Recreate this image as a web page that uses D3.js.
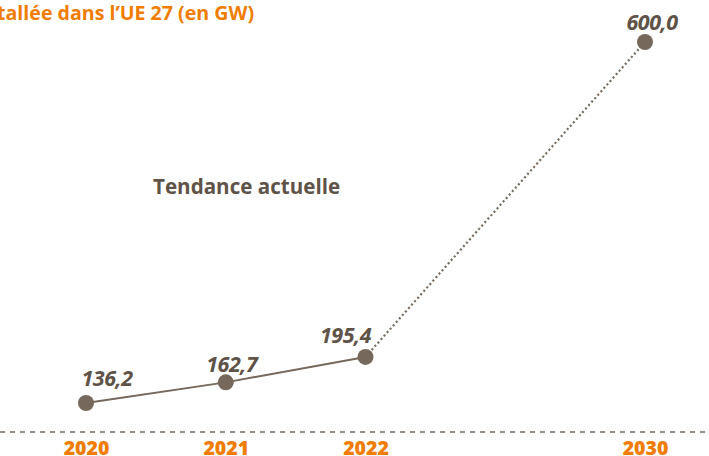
<!DOCTYPE html>
<html><head><meta charset="utf-8">
<script src="https://cdn.jsdelivr.net/npm/d3@7/dist/d3.min.js"></script>
<style>html,body{margin:0;padding:0;background:#fff;overflow:hidden}</style>
</head><body>
<svg id="chart" width="709" height="456"></svg>
<script>
const categories = ["2020", "2021", "2022", "", "2030"];
const years = ["2020", "2021", "2022", "2030"];
const values = [136.2, 162.7, 195.4, 600.0];
const valueLabels = ["136,2", "162,7", "195,4", "600,0"];
const title = "tallée dans l’UE 27 (en GW)";
const trendLabel = "Tendance actuelle";

const brown = "#76685a", darkBrown = "#5f5247", orange = "#f07d00";
const svg = d3.select("#chart");
const x = d3.scalePoint().domain(categories).range([86, 645]);
const y = d3.scaleLinear().domain([0, 600]).range([509, 42]);

svg.append("text").attr("x", -3).attr("y", 20).attr("fill", orange)
  .attr("font-family", "Open Sans").attr("font-weight", 700).attr("font-size", 19.6).text(title);

svg.append("text").attr("x", 153).attr("y", 194).attr("fill", darkBrown)
  .attr("font-family", "Open Sans").attr("font-weight", 700).attr("font-size", 20.6).text(trendLabel);

// baseline
svg.append("line").attr("x1", 0).attr("x2", 709).attr("y1", 432).attr("y2", 432)
  .attr("stroke", brown).attr("stroke-width", 1.6).attr("stroke-dasharray", "5,5");

const pts = years.map((yr, i) => ({yr, v: values[i], lab: valueLabels[i]}));
const line = d3.line().x(d => x(d.yr)).y(d => y(d.v));
svg.append("path").attr("d", line(pts.slice(0, 3))).attr("fill", "none")
  .attr("stroke", brown).attr("stroke-width", 2);
svg.append("path").attr("d", line(pts.slice(2))).attr("fill", "none")
  .attr("stroke", brown).attr("stroke-width", 2.2).attr("stroke-dasharray", "2,2.6");

svg.selectAll("circle.pt").data(pts).join("circle").attr("class", "pt")
  .attr("cx", d => x(d.yr)).attr("cy", d => y(d.v)).attr("r", 8).attr("fill", brown);

const lblOff = [[21, -17], [6, -10], [-20, -14], [7, -12]];
svg.selectAll("text.val").data(pts).join("text").attr("class", "val")
  .attr("x", (d, i) => x(d.yr) + lblOff[i][0]).attr("y", (d, i) => y(d.v) + lblOff[i][1])
  .attr("text-anchor", "middle").attr("fill", darkBrown)
  .attr("font-family", "Open Sans").attr("font-weight", 700).attr("font-style", "italic")
  .attr("font-size", 21.5).attr("letter-spacing", -0.5).text(d => d.lab);

const xAxis = d3.axisBottom(x).tickValues(years).tickSize(0).tickPadding(0);
const ax = svg.append("g").attr("transform", "translate(0,441)").call(xAxis);
ax.select(".domain").remove();
ax.selectAll("text").attr("fill", orange).attr("font-family", "Open Sans")
  .attr("font-weight", 800).attr("font-size", 19.5).attr("dy", "0.71em");
</script>
</body></html>
